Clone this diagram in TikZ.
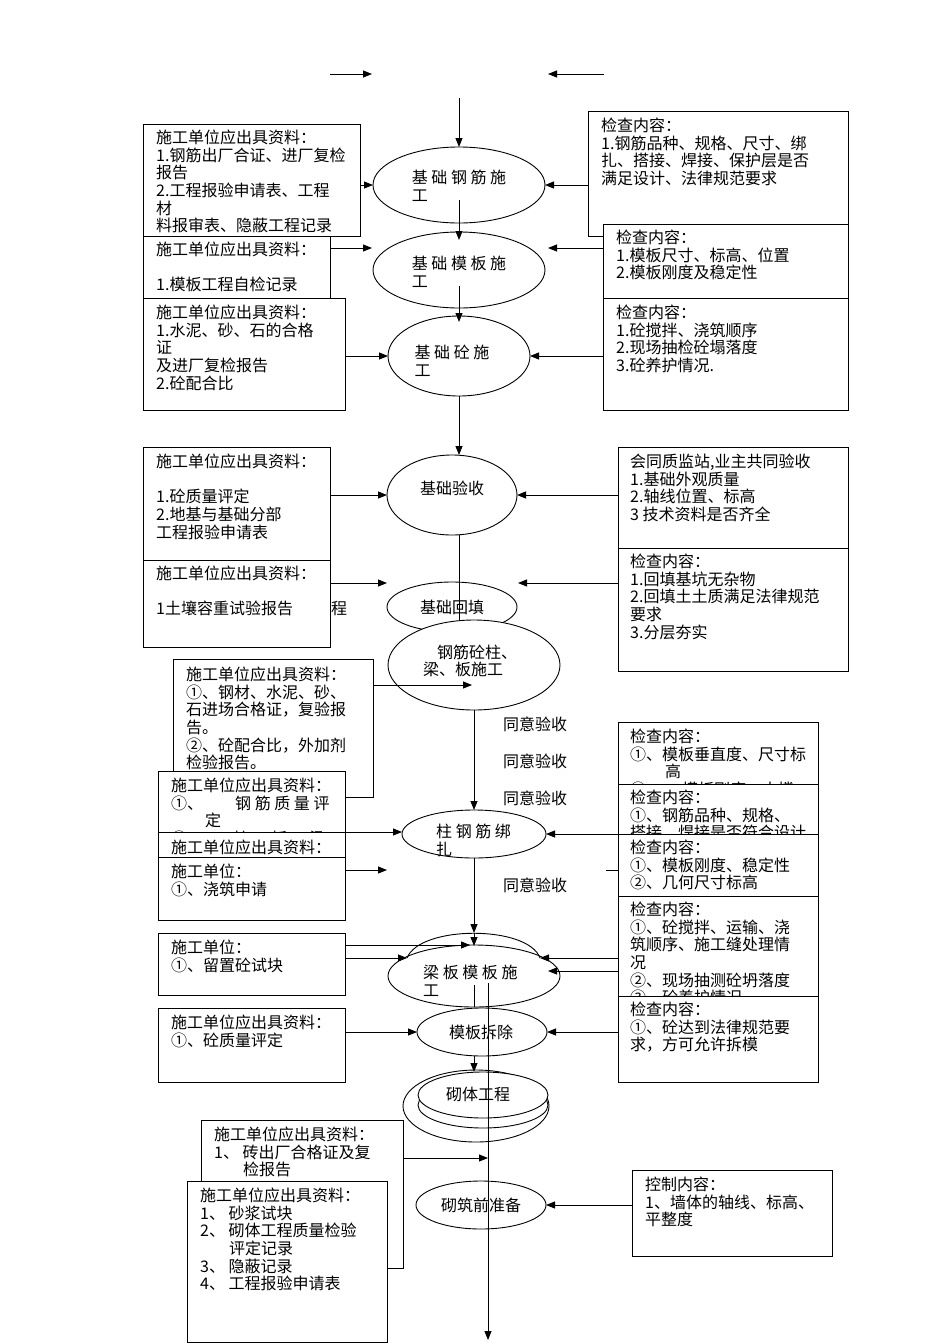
\documentclass[tikz,border=0pt]{standalone}
\usepackage{fontspec}
\setmainfont{Noto Sans CJK SC}
\usetikzlibrary{shapes.geometric,arrows.meta,calc}
\begin{document}
\begin{tikzpicture}[x=1pt,y=-1pt,
  font=\fontsize{16}{17.6}\selectfont,
  tb/.style={draw,fill=white,line width=0.9pt,anchor=north west,inner sep=0pt,outer sep=0pt},
  txt/.style={anchor=north west,align=left,inner sep=0pt},
  ell/.style={draw,ellipse,fill=white,line width=0.9pt,inner sep=0pt,outer sep=0pt},
  arr/.style={-{Triangle[length=9pt,width=7pt]},line width=0.9pt},
  ln/.style={line width=0.9pt},
  lab/.style={inner sep=0pt,align=left}]
\useasboundingbox (0,0) rectangle (950,1344);

% ---------- top free arrows ----------
\coordinate (ta1) at (330,74); \coordinate (ta2) at (372,74);
\coordinate (tb1) at (604,74); \coordinate (tb2) at (548,74);
\coordinate (top) at (459,98);

% ---------- left boxes ----------
\node[tb,minimum width=217pt,minimum height=112pt] (L1) at (143,124) {};
\node[txt] (L1t) at ($(L1.north west)+(13,6)$) {施工单位应出具资料：\\1.钢筋出厂合证、进厂复检\\报告\\2.工程报验申请表、工程\\材\\料报审表、隐蔽工程记录};
\node[tb,minimum width=187pt,minimum height=64pt] (L2) at (143,236) {};
\node[txt] (L2t) at ($(L2.north west)+(13,6)$) {施工单位应出具资料：\\[17.6pt]1.模板工程自检记录};
\node[tb,minimum width=202pt,minimum height=112pt] (L3) at (143,298) {};
\node[txt] (L3t) at ($(L3.north west)+(13,7)$) {施工单位应出具资料：\\1.水泥、砂、石的合格\\证\\及进厂复检报告\\2.砼配合比};
\node[tb,minimum width=187pt,minimum height=113pt] (L4) at (143,447) {};
\node[txt] (L4t) at ($(L4.north west)+(13,7)$) {施工单位应出具资料：\\[17.6pt]1.砼质量评定\\2.地基与基础分部\\工程报验申请表};
\node[tb,minimum width=187pt,minimum height=87pt] (L5) at (143,560) {};
\node[txt] (L5t) at ($(L5.north west)+(13,6)$) {施工单位应出具资料：\\[17.6pt]1土壤容重试验报告};
\node[lab] (cheng) at (339,609) {程};

% ---------- right boxes (top) ----------
\node[tb,minimum width=260pt,minimum height=125pt] (R1) at (588,111) {};
\node[txt] (R1t) at ($(R1.north west)+(13,7)$) {检查内容：\\1.钢筋品种、规格、尺寸、绑\\扎、搭接、焊接、保护层是否\\满足设计、法律规范要求};
\node[tb,minimum width=245pt,minimum height=74pt] (R2) at (603,224) {};
\node[txt] (R2t) at ($(R2.north west)+(13,6)$) {检查内容：\\1.模板尺寸、标高、位置\\2.模板刚度及稳定性};
\node[tb,minimum width=245pt,minimum height=112pt] (R3) at (603,298) {};
\node[txt] (R3t) at ($(R3.north west)+(13,7)$) {检查内容：\\1.砼搅拌、浇筑顺序\\2.现场抽检砼塌落度\\3.砼养护情况.};
\node[tb,minimum width=230pt,minimum height=113pt] (R4) at (618,447) {};
\node[txt] (R4t) at ($(R4.north west)+(12,7)$) {会同质监站,业主共同验收\\1.基础外观质量\\2.轴线位置、标高\\3 技术资料是否齐全};
\node[tb,minimum width=230pt,minimum height=123pt] (R5) at (618,548) {};
\node[txt] (R5t) at ($(R5.north west)+(12,6)$) {检查内容：\\1.回填基坑无杂物\\2.回填土土质满足法律规范\\要求\\3.分层夯实};

% ---------- middle left boxes ----------
\node[tb,minimum width=200pt,minimum height=138pt] (L6) at (173,659) {};
\node[txt] (L6t) at ($(L6.north west)+(13,8)$) {施工单位应出具资料：\\①、钢材、水泥、砂、\\石进场合格证，复验报\\告。\\②、砼配合比，外加剂\\检验报告。};
\node[tb,minimum width=187pt,minimum height=86pt] (L7a) at (158,771) {};
\node[txt] (L7at) at ($(L7a.north west)+(13,7)$) {施工单位应出具资料：\\①、\hspace{32pt}钢 筋 质 量 评\\\hspace{34pt}定\\②、\hspace{30pt}柱\hspace{22pt}板\hspace{22pt}梁};
\node[tb,minimum width=187pt,minimum height=48pt] (L7b) at (158,832) {};
\node[txt] (L7bt) at ($(L7b.north west)+(13,8)$) {施工单位应出具资料：};
\node[tb,minimum width=187pt,minimum height=63pt] (L7c) at (158,857) {};
\node[txt] (L7ct) at ($(L7c.north west)+(13,7)$) {施工单位：\\①、浇筑申请};
\node[tb,minimum width=187pt,minimum height=62pt] (L8) at (158,933) {};
\node[txt] (L8t) at ($(L8.north west)+(13,7)$) {施工单位：\\①、留置砼试块};
\node[tb,minimum width=187pt,minimum height=74pt] (L9) at (158,1008) {};
\node[txt] (L9t) at ($(L9.north west)+(13,7)$) {施工单位应出具资料：\\①、砼质量评定};

% ---------- middle right boxes ----------
\node[tb,minimum width=200pt,minimum height=90pt] (R6) at (618,722) {};
\node[txt] (R6t) at ($(R6.north west)+(12,7)$) {检查内容：\\①、模板垂直度、尺寸标\\\hspace{35pt}高\\②、\hspace{20pt}模板刚度、支撑};
\node[tb,minimum width=200pt,minimum height=60pt] (R7) at (618,784) {};
\node[txt] (R7t) at ($(R7.north west)+(12,6)$) {检查内容：\\①、钢筋品种、规格、\\搭接、焊接是否符合设计};
\node[tb,minimum width=200pt,minimum height=62pt] (R8) at (618,834) {};
\node[txt] (R8t) at ($(R8.north west)+(12,6)$) {检查内容：\\①、模板刚度、稳定性\\②、几何尺寸标高};
\node[tb,minimum width=200pt,minimum height=100pt] (R9) at (618,896) {};
\node[txt] (R9t) at ($(R9.north west)+(12,6)$) {检查内容：\\①、砼搅拌、运输、浇\\筑顺序、施工缝处理情\\况\\②、现场抽测砼坍落度\\③、砼养护情况};
\node[tb,minimum width=200pt,minimum height=86pt] (R10) at (618,996) {};
\node[txt] (R10t) at ($(R10.north west)+(12,6)$) {检查内容：\\①、砼达到法律规范要\\求，方可允许拆模};

% ---------- bottom boxes ----------
\node[tb,minimum width=202pt,minimum height=148pt] (L10a) at (201,1120) {};
\node[txt] (L10at) at ($(L10a.north west)+(13,7)$) {施工单位应出具资料：\\1、 砖出厂合格证及复\\\hspace{29pt}检报告};
\node[tb,minimum width=200pt,minimum height=161pt] (L10b) at (187,1181) {};
\node[txt] (L10bt) at ($(L10b.north west)+(13,7)$) {施工单位应出具资料：\\1、 砂浆试块\\2、 砌体工程质量检验\\\hspace{29pt}评定记录\\3、 隐蔽记录\\4、 工程报验申请表};
\node[tb,minimum width=200pt,minimum height=86pt] (R11) at (632,1170) {};
\node[txt] (R11t) at ($(R11.north west)+(13,7)$) {控制内容：\\1、墙体的轴线、标高、\\平整度};

% ---------- ellipses ----------
\node[ell,minimum width=172pt,minimum height=76pt] (E1) at (459,185) {};
\node[lab] (E1t) at (459,186) {基 础 钢 筋 施\\工};
\node[ell,minimum width=172pt,minimum height=76pt] (E2) at (459,270) {};
\node[lab] (E2t) at (459,272) {基 础 模 板 施\\工};
\node[ell,minimum width=142pt,minimum height=80pt] (E3) at (459,356) {};
\node[lab] (E3t) at (452,361) {基 础 砼 施\\工};
\node[ell,minimum width=130pt,minimum height=80pt] (E4) at (452,495) {};
\node[lab] (E4t) at (452,488) {基础验收};
\node[ell,minimum width=130pt,minimum height=50pt] (E5) at (452,607) {};
\node[lab] (E5t) at (452,607) {基础回填};
\draw[ln] (E3.south |- E4.south) -- (E3.south |- 0,621);
\node[ell,minimum width=172pt,minimum height=90pt] (E6) at (474,665) {};
\node[lab] (E6t) at (470,661) {\hspace{14pt}钢筋砼柱、\\梁、板施工};
\node[ell,minimum width=144pt,minimum height=48pt] (E7) at (474,834) {};
\node[lab,anchor=north west] (E7t) at (436,824) {柱 钢 筋 绑\\扎};
\node[ell,minimum width=172pt,minimum height=62pt] (E8) at (474,976) {};
\node[lab,anchor=north west] (E8t) at (423,965) {梁 板 模 板 施\\工};
\coordinate (arcL) at (407,958);
\coordinate (arcR) at (540,958);
\coordinate (arcTop) at (474,933);
\draw[ln] (arcL) .. controls (420,925) and (528,925) .. (arcR);
\node[ell,minimum width=130pt,minimum height=48pt] (E9) at (482,1032) {};
\node[lab] (E9t) at (481,1032) {模板拆除};
\node[ell,minimum width=146pt,minimum height=72pt] (E10b) at (476,1106) {};
\node[ell,minimum width=130pt,minimum height=46pt] (E10c) at (483,1105) {};
\node[ell,minimum width=130pt,minimum height=46pt] (E10a) at (483,1095) {};
\node[lab] (E10t) at (478,1094) {砌体工程};
\node[ell,minimum width=130pt,minimum height=48pt] (E11) at (481,1205) {};
\node[lab] (E11t) at (481,1205) {砌筑前准备};

% ---------- labels ----------
\node[lab] (ok1) at (535,724) {同意验收};
\node[lab] (ok2) at (535,761) {同意验收};
\node[lab] (ok3) at (535,798) {同意验收};
\node[lab] (ok4) at (535,885) {同意验收};

% ---------- connectors ----------
\draw[arr] (ta1) -- (ta2);
\draw[arr] (tb1) -- (tb2);
\draw[arr] (top) -- (E1.north);
\draw[arr] ([yshift=-15pt]E1.center) -- ([yshift=-8pt]E2.north);
\draw[arr] ([yshift=-16pt]E2.center) -- ([yshift=-6pt]E3.north);
\draw[arr] (E3.south) -- (E3.south |- E4.north);
\draw[arr] (L1.east |- E1.west) -- (E1.west);
\draw[arr] (R1.west |- E1.east) -- (E1.east);
\draw[arr] ($(L2.north east)+(0,12)$) -- ++(42,0);
\draw[arr] ($(R2.north west)+(0,24)$) -- ++(-55,0);
\draw[arr] (L3.east |- E3.west) -- (E3.west);
\draw[arr] (R3.west |- E3.east) -- (E3.east);
\draw[arr] (L4.east |- E4.west) -- (E4.west);
\draw[arr] (R4.west |- E4.east) -- (E4.east);
\draw[arr] ($(L5.north east)+(0,23)$) -- ++(57,0);
\draw[arr] ($(R5.north west)+(0,35)$) -- ++(-100,0);
\draw[arr] ($(L6.north east)+(0,26)$) -- ++(99,0);
\draw[arr] (E6.south) -- (E7.north);
\draw[arr] (L7b.north east) -- (E7.west |- L7b.north east);
\draw[arr] (R7.west |- E7.east) -- (E7.east);
\draw[arr] ($(L7c.north east)+(0,13)$) -- ++(42,0);
\draw[ln] ($(R8.north west)+(0,36)$) -- ++(-12,0);
\draw[arr] (E7.south) -- (arcTop);
\draw[arr] (arcTop) -- ([yshift=-1pt]E8.north);
\draw[arr] ($(L8.north east)+(0,12)$) -- ++(125,0);
\draw[arr] (L8.east |- arcL) -- (arcL);
\draw[arr] (R9.west |- arcR) -- (arcR);
\draw[arr] ($(R9.north west)+(0,75)$) -- ++(-70,0);
\draw[ln] (474,985) -- (E8.south);
\draw[arr] (L9.east |- E9.west) -- (E9.west);
\draw[arr] (R10.west |- E9.east) -- (E9.east);
\draw[arr] (E8.south |- E9.south) -- (E8.south |- E10a.north);
\draw[arr] ($(L10a.north east)+(0,38)$) -- ++(85,0);
\draw[arr] (R11.west |- E11.east) -- (E11.east);
\coordinate (bot) at (488,1340);
\draw[arr] (488,983) -- (bot);
\end{tikzpicture}
\end{document}
